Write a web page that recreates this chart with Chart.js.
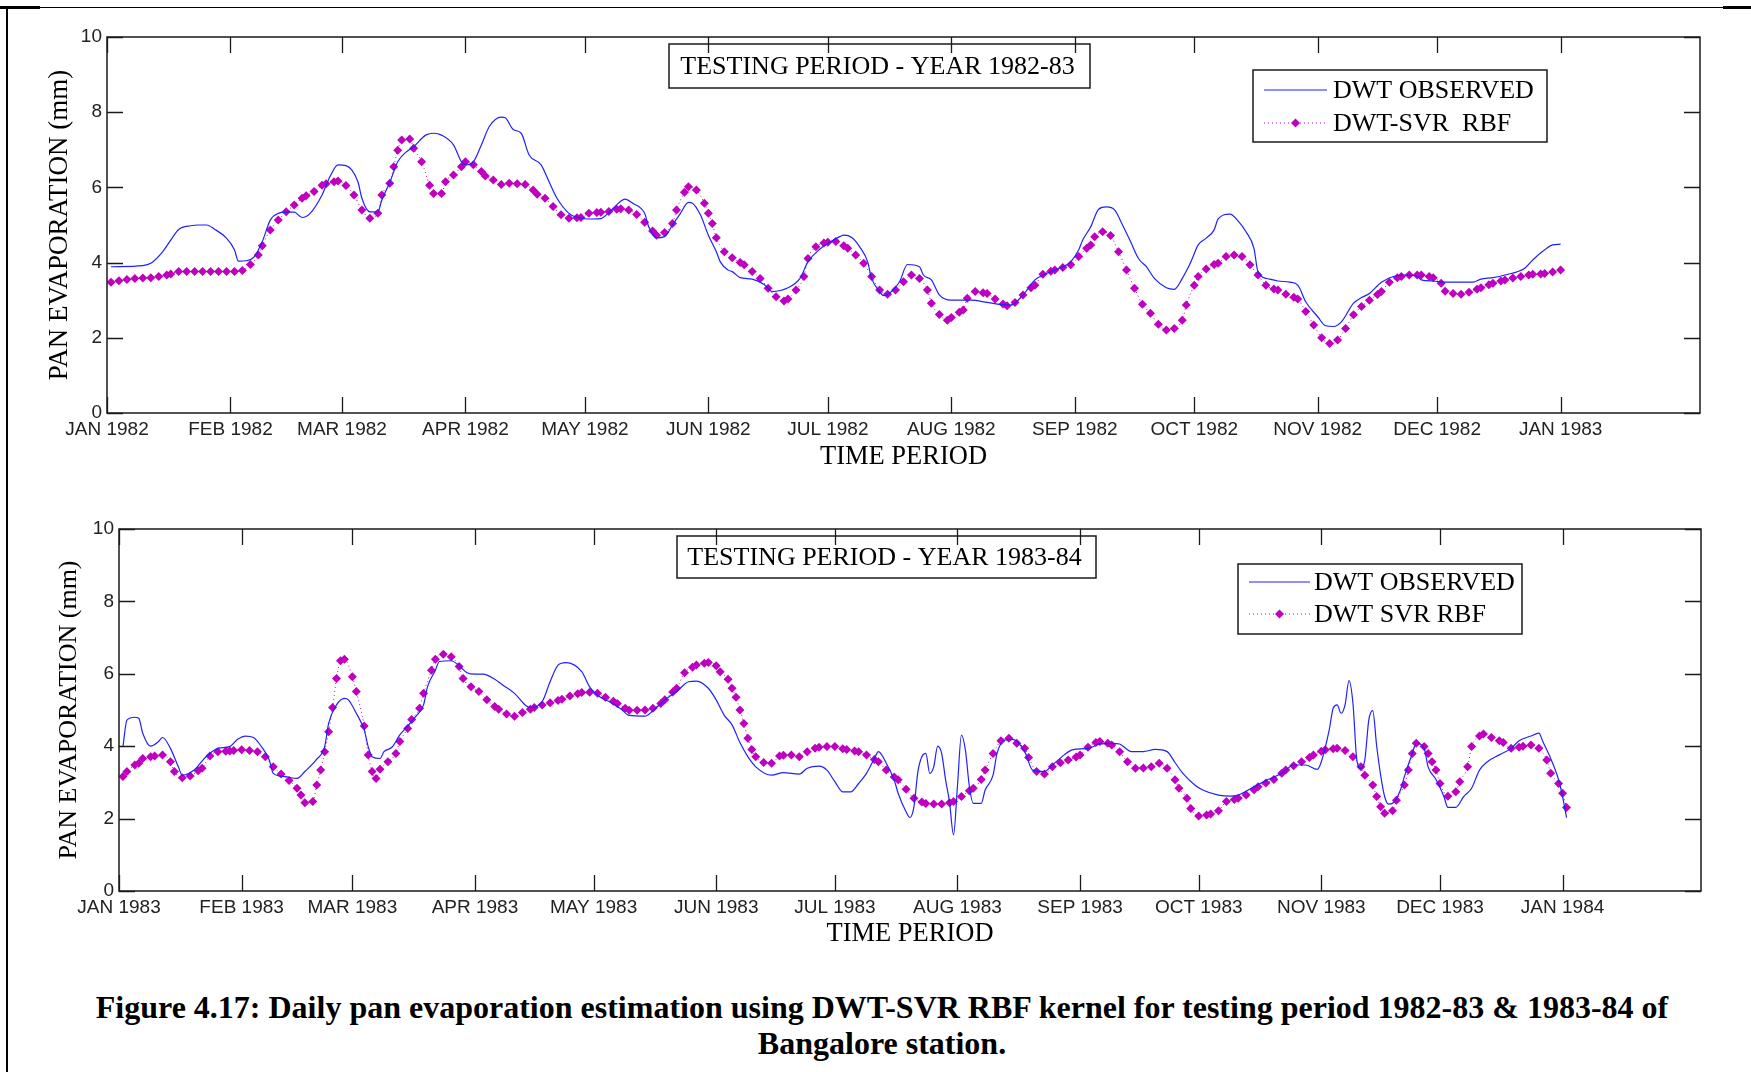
<!DOCTYPE html>
<html>
<head>
<meta charset="utf-8">
<script src="https://cdn.jsdelivr.net/npm/chart.js@4.4.1/dist/chart.umd.min.js"></script>
<style>
  html, body { margin: 0; padding: 0; background: #fff; }
  body { width: 1751px; height: 1072px; position: relative; overflow: hidden; }
  canvas { position: absolute; left: 0; }
  #c82 { top: 0; }
  #c83 { top: 480px; }
  .edge { position: absolute; background: #000; }
  #caption {
    position: absolute; left: 0; top: 989px; width: 1764px; text-align: center;
    font-family: 'Liberation Serif', 'Times New Roman', serif; font-weight: bold;
    font-size: 32px; line-height: 36px; color: #000;
  }
</style>
</head>
<body>
<div class="edge" style="left:6px;top:6px;width:2px;height:1066px"></div>
<div class="edge" style="left:6px;top:7px;width:1745px;height:1px"></div>
<div class="edge" style="left:0;top:6px;width:40px;height:3px"></div>
<div class="edge" style="left:1723px;top:6px;width:28px;height:3px"></div>
<canvas id="c82" width="1751" height="480"></canvas>
<canvas id="c83" width="1751" height="480"></canvas>
<div id="caption">Figure 4.17: Daily pan evaporation estimation using DWT-SVR RBF kernel for testing period 1982-83 &amp; 1983-84 of<br>Bangalore station.</div>
<script>
// month ticks (day of year) and their labels
const monthStart = [0, 31, 59, 90, 120, 151, 181, 212, 243, 273, 304, 334, 365]
const months82 = ['JAN 1982', 'FEB 1982', 'MAR 1982', 'APR 1982', 'MAY 1982', 'JUN 1982', 'JUL 1982',
  'AUG 1982', 'SEP 1982', 'OCT 1982', 'NOV 1982', 'DEC 1982', 'JAN 1983']
const months83 = ['JAN 1983', 'FEB 1983', 'MAR 1983', 'APR 1983', 'MAY 1983', 'JUN 1983', 'JUL 1983',
  'AUG 1983', 'SEP 1983', 'OCT 1983', 'NOV 1983', 'DEC 1983', 'JAN 1984']
const yTicks = [0, 2, 4, 6, 8, 10]

// 1982-83 : observed
const obs82Day = [1,9,11,14,16,18,21,23,25,27,30,32,33,35,37,39,41,43,45,47,49,51,54,56,58,60,63,64,66,68,69,71,73,75,77,80,82,84,87,89,90,92,94,96,99,100,102,104,106,109,111,113,116,119,121,124,126,129,130,132,135,136,138,140,142,144,146,147,149,151,153,154,156,157,159,162,165,167,171,174,176,179,181,184,185,187,189,191,192,194,195,197,199,201,204,205,207,209,212,217,221,224,227,230,233,237,240,242,244,245,247,249,251,253,255,257,259,261,263,266,268,270,272,274,276,278,279,282,284,286,288,289,292,294,297,299,301,304,306,308,310,313,315,317,320,323,326,329,330,333,336,343,345,348,351,356,358,361,363,365]
const obs82Val = [3.89,3.92,3.98,4.29,4.6,4.88,4.98,5.0,5.0,4.89,4.65,4.34,4.04,4.05,4.16,4.56,5.13,5.31,5.34,5.34,5.2,5.31,5.8,6.29,6.6,6.58,6.15,5.71,5.35,5.35,5.66,6.13,6.68,6.93,7.08,7.39,7.44,7.39,7.13,6.68,6.6,6.68,7.13,7.62,7.87,7.85,7.54,7.44,6.86,6.6,6.15,5.71,5.31,5.18,5.16,5.17,5.33,5.63,5.69,5.58,5.31,4.96,4.66,4.69,5.0,5.31,5.6,5.58,5.27,4.73,4.29,4.02,3.8,3.76,3.6,3.56,3.42,3.23,3.33,3.58,4.02,4.36,4.51,4.69,4.73,4.67,4.42,4.02,3.58,3.23,3.12,3.23,3.49,3.95,3.89,3.67,3.54,3.14,3.0,3.0,2.94,2.89,2.87,3.14,3.54,3.76,3.89,4.02,4.34,4.6,4.95,5.42,5.48,5.4,5.0,4.56,4.11,3.89,3.58,3.33,3.29,3.58,3.98,4.47,4.65,4.87,5.16,5.29,5.11,4.82,4.38,3.76,3.56,3.51,3.48,3.4,2.96,2.56,2.32,2.3,2.43,2.92,3.07,3.18,3.48,3.63,3.67,3.63,3.54,3.51,3.48,3.48,3.56,3.6,3.67,3.85,4.07,4.34,4.47,4.49]

// 1982-83 : DWT-SVR RBF
const svr82Day = [1,3,5,7,9,11,13,15,16,18,20,22,24,26,28,30,32,34,36,38,39,41,43,45,47,49,50,52,54,55,57,58,60,62,64,66,68,69,71,72,73,74,76,77,79,81,82,84,85,87,89,90,92,94,95,97,99,101,103,105,107,108,110,112,114,116,118,119,121,123,124,126,128,129,131,133,135,137,138,140,142,143,145,146,148,150,151,152,153,155,157,159,160,162,164,166,168,170,171,173,175,176,178,180,181,183,185,186,188,190,192,194,196,198,200,202,204,206,207,209,211,212,214,215,216,218,220,221,223,225,226,228,230,232,233,235,237,238,240,242,244,246,247,248,250,252,254,256,258,260,262,264,266,268,270,271,273,274,276,278,279,281,283,285,287,289,291,293,294,296,298,299,301,303,305,307,309,311,313,315,317,319,320,322,324,325,327,329,330,332,333,335,336,338,340,342,344,345,347,348,350,351,353,355,357,358,360,361,363,365]
const svr82Val = [3.48,3.52,3.55,3.58,3.59,3.6,3.63,3.67,3.7,3.76,3.76,3.76,3.76,3.76,3.76,3.76,3.76,3.79,3.95,4.2,4.45,4.87,5.13,5.35,5.53,5.71,5.78,5.89,6.06,6.1,6.15,6.17,6.05,5.8,5.4,5.18,5.31,5.8,6.11,6.55,6.99,7.26,7.29,7.04,6.68,6.06,5.84,5.84,6.15,6.33,6.55,6.68,6.6,6.42,6.3,6.2,6.08,6.11,6.1,6.08,5.93,5.82,5.71,5.49,5.27,5.18,5.19,5.2,5.31,5.33,5.34,5.36,5.42,5.43,5.4,5.28,5.07,4.84,4.73,4.8,5.04,5.4,5.87,6.02,5.93,5.58,5.31,5.04,4.66,4.29,4.13,4.0,3.94,3.76,3.58,3.32,3.09,2.98,3.03,3.27,3.63,4.11,4.42,4.52,4.54,4.56,4.45,4.38,4.2,3.98,3.63,3.27,3.16,3.27,3.49,3.67,3.58,3.27,2.92,2.62,2.47,2.54,2.68,2.74,3.05,3.23,3.2,3.18,3.03,2.9,2.85,2.94,3.14,3.33,3.4,3.69,3.77,3.8,3.87,3.94,4.16,4.38,4.47,4.69,4.82,4.72,4.29,3.8,3.32,2.89,2.65,2.36,2.21,2.25,2.47,2.87,3.4,3.63,3.83,3.95,3.98,4.16,4.2,4.16,3.94,3.67,3.4,3.3,3.27,3.16,3.08,3.03,2.7,2.34,2.0,1.85,1.94,2.25,2.61,2.83,3.0,3.15,3.23,3.48,3.6,3.63,3.67,3.67,3.67,3.63,3.6,3.45,3.24,3.18,3.16,3.21,3.29,3.33,3.41,3.45,3.51,3.54,3.59,3.63,3.67,3.69,3.7,3.71,3.75,3.8]

// 1983-84 : observed
const obs83Day = [1,2,4,5,6,8,10,11,13,15,16,19,22,25,28,30,32,34,36,38,39,42,45,47,50,52,53,55,57,58,60,62,63,64,66,67,69,71,73,75,77,78,80,81,84,86,88,90,92,95,97,100,103,104,107,109,111,113,117,119,122,124,127,129,133,135,138,141,144,146,149,151,153,155,157,159,161,165,168,172,174,177,179,181,183,185,187,189,191,192,194,196,197,199,200,201,202,203,204,205,206,207,208,209,210,211,212,213,214,215,216,218,219,221,222,224,226,229,231,234,236,239,241,245,248,251,253,256,259,262,265,267,269,272,274,278,281,283,287,290,294,297,300,303,304,306,307,308,309,310,311,312,313,314,315,316,317,318,319,320,321,322,324,325,327,328,330,331,333,335,336,338,340,342,344,346,349,352,354,357,359,360,362,364,365,366]
const obs83Val = [3.99,4.72,4.8,4.77,4.36,4.0,4.13,4.24,3.94,3.43,3.2,3.34,3.71,3.94,3.99,4.19,4.28,4.24,3.99,3.62,3.25,3.16,3.11,3.3,3.64,3.99,4.63,5.14,5.32,5.28,4.91,4.45,3.99,3.71,3.66,3.85,3.97,4.31,4.56,4.82,5.14,5.64,6.1,6.34,6.36,6.22,6.03,5.99,5.99,5.85,5.69,5.46,5.11,5.07,5.23,5.78,6.24,6.31,6.06,5.64,5.33,5.23,5.02,4.85,4.83,4.98,5.28,5.51,5.78,5.8,5.6,5.28,4.86,4.59,4.1,3.71,3.43,3.2,3.27,3.23,3.39,3.45,3.34,3.02,2.74,2.74,2.97,3.25,3.66,3.85,3.53,3.07,2.7,2.19,2.03,2.33,3.3,3.71,3.8,3.25,3.43,4.0,3.8,3.07,2.45,1.55,2.9,4.31,3.9,2.9,2.42,2.42,2.79,3.2,3.8,4.17,4.19,3.85,3.34,3.3,3.48,3.76,3.9,3.94,4.06,4.08,4.06,3.85,3.85,3.91,3.85,3.55,3.25,2.93,2.79,2.65,2.62,2.65,2.88,3.05,3.25,3.48,3.48,3.36,3.57,4.45,5.05,5.14,4.91,5.14,5.81,5.18,3.6,3.39,3.62,4.72,4.98,4.0,3.2,2.61,2.4,2.42,2.79,3.16,3.8,4.08,3.94,3.43,3.08,2.61,2.31,2.31,2.61,2.84,3.34,3.57,3.76,3.94,4.15,4.28,4.36,4.13,3.66,3.07,2.61,2.03]

// 1983-84 : DWT SVR RBF
const svr83Day = [1,2,4,5,6,8,9,11,13,14,16,18,20,21,23,25,27,28,29,31,33,35,37,39,41,43,45,46,47,49,50,51,52,53,54,55,56,57,59,60,62,63,64,65,66,68,70,71,73,74,76,77,79,80,82,84,86,87,89,91,93,95,96,98,100,102,104,105,107,109,111,112,114,116,117,119,121,123,125,126,128,129,131,133,135,137,138,140,141,143,145,146,148,149,151,152,154,155,156,157,158,159,160,161,163,165,167,168,170,172,174,176,177,179,181,183,184,186,187,189,191,192,194,196,197,199,201,203,204,206,208,210,211,213,215,216,218,219,221,223,225,227,229,230,232,234,236,238,240,242,243,245,247,248,250,251,253,255,257,259,261,263,265,267,268,270,271,273,275,276,278,280,282,283,285,287,288,290,292,294,295,297,299,301,302,304,305,307,308,310,312,314,315,317,318,319,320,322,323,325,326,327,328,330,331,332,333,334,336,338,339,341,342,344,345,347,349,350,352,354,355,357,359,361,362,364,365,366]
const svr83Val = [3.16,3.3,3.48,3.53,3.66,3.71,3.73,3.76,3.57,3.3,3.13,3.18,3.32,3.39,3.73,3.85,3.86,3.87,3.88,3.9,3.88,3.85,3.71,3.43,3.23,3.05,2.84,2.65,2.44,2.47,2.93,3.34,3.85,4.4,5.07,5.87,6.36,6.4,5.92,5.51,4.56,3.76,3.3,3.11,3.36,3.57,3.8,4.13,4.49,4.74,5.05,5.46,6.1,6.4,6.54,6.47,6.2,5.87,5.64,5.51,5.28,5.1,5.02,4.89,4.83,4.93,5.02,5.07,5.14,5.2,5.26,5.3,5.39,5.45,5.48,5.49,5.46,5.35,5.24,5.18,5.05,4.99,4.99,5.0,5.05,5.18,5.28,5.5,5.6,6.03,6.18,6.24,6.29,6.31,6.22,6.06,5.85,5.6,5.35,5.0,4.63,4.22,3.91,3.71,3.55,3.53,3.73,3.75,3.76,3.71,3.85,3.94,3.97,3.99,3.99,3.93,3.91,3.87,3.85,3.76,3.63,3.57,3.34,3.15,3.07,2.81,2.56,2.46,2.42,2.4,2.4,2.44,2.47,2.61,2.77,2.84,3.08,3.34,3.8,4.15,4.22,4.08,3.94,3.69,3.3,3.23,3.43,3.54,3.62,3.7,3.76,3.97,4.1,4.13,4.08,4.03,3.85,3.57,3.39,3.4,3.43,3.53,3.39,3.07,2.84,2.56,2.28,2.07,2.1,2.13,2.22,2.47,2.53,2.56,2.65,2.8,2.88,2.98,3.08,3.25,3.34,3.46,3.57,3.69,3.76,3.86,3.9,3.93,3.94,3.88,3.71,3.43,3.2,2.93,2.61,2.33,2.15,2.22,2.51,2.93,3.34,3.8,4.08,3.99,3.8,3.57,3.34,2.97,2.62,2.74,3.02,3.43,3.99,4.28,4.34,4.24,4.15,4.1,3.94,3.97,4.0,4.03,3.94,3.62,3.25,2.97,2.7,2.31]

const BLUE = '#2020ff'
const MAGENTA = '#bf00bf'
const SANS = "'Liberation Sans', Arial, sans-serif"
const SERIF = "'Liberation Serif', 'Times New Roman', serif"

function pts(days, vals){
    return days.map((d, i) => ({x: d, y: vals[i]}))
}

// frame, inward ticks, title box and legend (MATLAB look)
const boxPlugin = {
    id: 'boxes',
    afterDraw(chart, args, o){
        const {ctx, chartArea: a} = chart
        const sx = chart.scales.x, sy = chart.scales.y
        ctx.save()
        ctx.strokeStyle = '#1a1a1a'
        ctx.lineWidth = 1.5
        ctx.strokeRect(a.left, a.top, a.right - a.left, a.bottom - a.top)
        ctx.lineWidth = 1.3
        ctx.beginPath()
        sx.ticks.forEach(t => {
            const px = Math.round(sx.getPixelForValue(t.value)) + 0.5
            ctx.moveTo(px, a.bottom); ctx.lineTo(px, a.bottom - o.tick)
            ctx.moveTo(px, a.top); ctx.lineTo(px, a.top + o.tick)
        })
        sy.ticks.forEach(t => {
            const py = Math.round(sy.getPixelForValue(t.value)) + 0.5
            ctx.moveTo(a.left, py); ctx.lineTo(a.left + o.tick, py)
            ctx.moveTo(a.right, py); ctx.lineTo(a.right - o.tick, py)
        })
        ctx.stroke()

        // title box
        const tb = o.titleBox
        ctx.lineWidth = 1.5
        ctx.strokeRect(tb.x, tb.y, tb.w, tb.h)
        ctx.fillStyle = '#000'
        ctx.font = '26px ' + SERIF
        ctx.textAlign = 'center'
        ctx.textBaseline = 'middle'
        ctx.fillText(o.title, tb.x + tb.w / 2 - 2, tb.y + tb.h / 2 + 1)

        // legend
        const lg = o.legend
        ctx.strokeStyle = '#1a1a1a'
        ctx.strokeRect(lg.x, lg.y, lg.w, lg.h)
        ctx.textAlign = 'left'
        ctx.font = '26px ' + SERIF
        chart.data.datasets.forEach((ds, i) => {
            const ry = lg.rows[i]
            ctx.strokeStyle = ds.borderColor
            ctx.lineWidth = ds.borderWidth
            ctx.setLineDash(ds.borderDash || [])
            ctx.beginPath(); ctx.moveTo(lg.x0, ry); ctx.lineTo(lg.x1, ry); ctx.stroke()
            ctx.setLineDash([])
            if (ds.pointRadius > 0){
                const cx = (lg.x0 + lg.x1) / 2, r = ds.pointRadius
                ctx.fillStyle = ds.pointBackgroundColor
                ctx.beginPath()
                ctx.moveTo(cx, ry - r); ctx.lineTo(cx + r, ry); ctx.lineTo(cx, ry + r); ctx.lineTo(cx - r, ry)
                ctx.closePath(); ctx.fill()
            }
            ctx.fillStyle = '#000'
            ctx.fillText(ds.label, lg.tx, ry + 1)
        })
        ctx.restore()
    }
}

function makeChart(id, c){
    return new Chart(document.getElementById(id), {
        type: 'line',
        data: {
            datasets: [{
                label: c.obsLabel,
                data: pts(c.obsDay, c.obsVal),
                borderColor: BLUE,
                borderWidth: 1.2,
                pointRadius: 0,
                cubicInterpolationMode: 'monotone',
                fill: false
            }, {
                label: c.svrLabel,
                data: pts(c.svrDay, c.svrVal),
                borderColor: MAGENTA,
                borderWidth: 1,
                borderDash: [1, 3],
                pointStyle: 'rectRot',
                pointRadius: 4.5,
                pointBackgroundColor: MAGENTA,
                pointBorderColor: MAGENTA,
                pointBorderWidth: 0,
                cubicInterpolationMode: 'monotone',
                fill: false
            }]
        },
        options: {
            responsive: false,
            animation: false,
            devicePixelRatio: 1,
            layout: { padding: c.pad },
            plugins: {
                legend: { display: false },
                tooltip: { enabled: false },
                boxes: { tick: 16, title: c.title, titleBox: c.titleBox, legend: c.legend }
            },
            scales: {
                x: {
                    type: 'linear', min: 0, max: 400,
                    afterBuildTicks: s => { s.ticks = monthStart.map(v => ({value: v})) },
                    afterFit: s => { s.height = c.xH },
                    ticks: {
                        autoSkip: false, maxRotation: 0, padding: 5, color: '#222',
                        font: { family: SANS, size: 19 },
                        callback: v => c.months[monthStart.indexOf(v)]
                    },
                    grid: { display: false, drawTicks: false },
                    border: { display: false },
                    title: { display: true, text: 'TIME PERIOD', color: '#000', font: { family: SERIF, size: 26.5 }, padding: 0 }
                },
                y: {
                    min: 0, max: 10,
                    afterBuildTicks: s => { s.ticks = yTicks.map(v => ({value: v})) },
                    afterFit: s => { s.width = c.yW },
                    ticks: { padding: 5, color: '#222', font: { family: SANS, size: 19 } },
                    grid: { display: false, drawTicks: false },
                    border: { display: false },
                    title: { display: true, text: 'PAN EVAPORATION (mm)', color: '#000', font: { family: SERIF, size: c.yTitleSize }, padding: 0 }
                }
            }
        },
        plugins: [boxPlugin]
    })
}

makeChart('c82', {
    obsDay: obs82Day, obsVal: obs82Val, svrDay: svr82Day, svrVal: svr82Val,
    obsLabel: 'DWT OBSERVED', svrLabel: 'DWT-SVR  RBF',
    months: months82,
    pad: { left: 44, top: 37, right: 51, bottom: 7 }, yW: 63, xH: 60, yTitleSize: 27,
    title: 'TESTING PERIOD - YEAR 1982-83',
    titleBox: { x: 669, y: 44, w: 421, h: 44 },
    legend: { x: 1253, y: 70, w: 294, h: 72, x0: 1264, x1: 1327, tx: 1333, rows: [90, 123] }
})

makeChart('c83', {
    obsDay: obs83Day, obsVal: obs83Val, svrDay: svr83Day, svrVal: svr83Val,
    obsLabel: 'DWT OBSERVED', svrLabel: 'DWT SVR RBF',
    months: months83,
    pad: { left: 54, top: 49, right: 50, bottom: 10 }, yW: 65, xH: 59, yTitleSize: 26,
    title: 'TESTING PERIOD - YEAR 1983-84',
    titleBox: { x: 677, y: 56, w: 419, h: 42 },
    legend: { x: 1238, y: 84, w: 284, h: 70, x0: 1249, x1: 1310, tx: 1314, rows: [102, 134] }
})
</script>
</body>
</html>
